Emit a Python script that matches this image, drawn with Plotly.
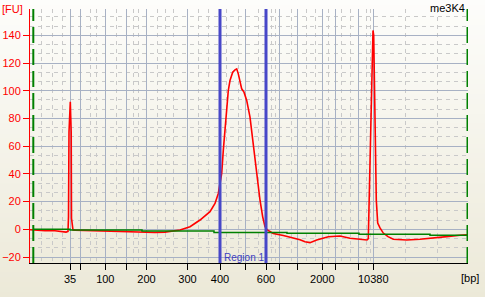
import plotly.graph_objects as go

# ---------------- data ----------------
# ladder (bp) and their migration times (s)
ladder_bp = [35, 50, 100, 150, 200, 300, 400, 500, 600, 700, 1000, 2000, 3000, 7000, 10380]
ladder_time = [34.0, 36.1, 41.06, 45.34, 49.3, 57.5, 64.0, 69.16, 73.2, 75.86, 79.54, 84.46, 87.0, 91.66, 94.66]
labeled_bp = [35, 100, 200, 300, 400, 600, 2000, 10380]

# minor (dashed) time grid positions (s)
minor_time = [28.34, 30.46, 32.54, 38.14, 39.34, 43.34, 46.66, 47.66, 51.46, 53.0, 54.66,
              59.66, 61.66, 65.34, 67.66, 71.66, 74.34, 75.0, 78.34, 81.34, 83.0, 85.66,
              88.34, 90.0, 93.34, 94.0, 101.0, 107.54]

# sample electropherogram: time (s) and fluorescence (FU)
sample_time = [26.0, 27.2, 29.0, 31.0, 32.2, 33.2, 33.6, 33.7, 33.8, 33.94, 34.06, 34.14, 34.24,
               34.3, 34.46, 34.6, 35.0, 37.0, 39.0, 41.0, 43.0, 45.0, 47.0, 49.0, 51.0, 53.0,
               55.0, 56.0, 58.0, 60.0, 62.0, 63.0, 63.66, 64.34, 64.66, 65.0, 65.34, 65.66,
               66.0, 66.54, 67.0, 67.34, 67.66, 68.0, 68.34, 68.8, 69.34, 70.0, 70.54, 71.0,
               71.46, 72.0, 72.54, 73.0, 73.46, 74.66, 76.66, 78.66, 80.0, 81.0, 82.0, 83.34,
               84.4, 85.66, 88.0, 90.0, 92.0, 93.4, 93.66, 93.8, 94.0, 94.26, 94.46, 94.6,
               94.74, 94.84, 95.06, 95.26, 95.54, 96.0, 96.66, 97.6, 98.66, 101.34, 104.0,
               106.66, 109.34, 112.0, 113.4]
sample_fu = [-0.3, -0.6, -1.0, -1.0, -1.6, -2.0, -1.5, 9.0, 70.0, 92.0, 92.0, 82.0, 70.0,
             8.0, 3.0, -0.5, -0.6, -0.8, -1.2, -1.5, -1.8, -1.5, -2.0, -2.3, -2.3, -2.0,
             -1.0, -0.5, 1.9, 6.7, 12.7, 18.7, 25.9, 40.3, 57.0, 73.8, 90.6, 100.2,
             107.4, 113.4, 115.1, 115.8, 112.2, 107.4, 101.4, 99.0, 93.0, 81.0, 64.2, 49.8,
             35.5, 21.0, 9.0, 1.9, -0.5, -3.0, -4.5, -6.0, -7.5, -9.0, -9.6, -7.7,
             -6.5, -5.3, -4.8, -6.5, -7.2, -7.7, -6.8, 16.0, 62.0, 108.0, 140.0, 143.5,
             140.0, 113.0, 50.0, 21.0, 4.5, 1.0, -2.7, -5.3, -7.2, -7.7, -7.2,
             -6.5, -5.3, -4.3, -4.0]

# baseline (step)
baseline_time = [26.66, 34.0, 48.4, 62.8, 77.4, 91.8, 106.0, 113.4]
baseline_fu = [0.0, -0.5, -1.2, -2.2, -2.9, -3.6, -4.3, -4.3]

# markers / region
marker_time = [26.66, 113.5]
region_time = [64.0, 73.2]
region_label = "Region 1"
sample_name = "me3K4"

y_ticks = [-20, 0, 20, 40, 60, 80, 100, 120, 140]

# ---------------- figure ----------------
FONT = "Liberation Sans, Arial, sans-serif"
fig = go.Figure()

fig.add_trace(go.Scatter(x=sample_time, y=sample_fu, mode="lines",
                         line=dict(color="#ff0000", width=1.6), hoverinfo="skip"))
fig.add_trace(go.Scatter(x=baseline_time, y=baseline_fu, mode="lines",
                         line=dict(color="#008000", width=1.5, shape="hv"), hoverinfo="skip"))

shapes = []
# background gradient (whole figure)
H = 297.0
top_c = (253, 253, 251)
bot_c = (236, 233, 216)
n = 60
pt, pb = 9.0, 263.0
for i in range(n):
    p0 = i * H / n
    p1 = (i + 1) * H / n + 0.8
    f = (i + 0.5) / n
    c = tuple(round(top_c[k] + (bot_c[k] - top_c[k]) * f) for k in range(3))
    shapes.append(dict(type="rect", xref="paper", yref="paper", x0=-0.1, x1=1.1,
                       y0=(pb - p1) / (pb - pt), y1=(pb - p0) / (pb - pt),
                       fillcolor="rgb(%d,%d,%d)" % c, line=dict(width=0), layer="below"))

for t in marker_time:
    shapes.append(dict(type="line", xref="x", yref="paper", x0=t, x1=t, y0=0, y1=1,
                       line=dict(color="#008000", width=2, dash="16px,6px"), layer="above"))
for t in region_time:
    shapes.append(dict(type="line", xref="x", yref="paper", x0=t, x1=t, y0=0, y1=1,
                       line=dict(color="#4747c8", width=3), layer="above"))

ticktext = [str(b) if b in labeled_bp else "" for b in ladder_bp]

fig.update_layout(
    width=485, height=297,
    margin=dict(l=30, r=17, t=9, b=34),
    paper_bgcolor="rgb(236,233,216)",
    plot_bgcolor="rgba(0,0,0,0)",
    showlegend=False,
    shapes=shapes,
    font=dict(family=FONT, size=11, color="#000000"),
    xaxis=dict(range=[26.0, 113.6], tickmode="array", tickvals=ladder_time, ticktext=ticktext,
               automargin=False,
               showgrid=True, gridcolor="#a7b1c4", gridwidth=1,
               minor=dict(tickmode="array", tickvals=minor_time, showgrid=True,
                          gridcolor="#c9c9c9", griddash="4px,4px", gridwidth=1, ticks=""),
               ticks="outside", ticklen=6, tickcolor="#000000", tickwidth=1,
               showline=True, linecolor="#000000", linewidth=1, zeroline=False,
               tickfont=dict(family=FONT, size=11, color="#000000")),
    yaxis=dict(range=[-24.3, 159], tickmode="array", tickvals=y_ticks,
               automargin=False,
               showgrid=True, gridcolor="#a7b1c4", gridwidth=1,
               minor=dict(dtick=20 / 3, tick0=0, showgrid=True, gridcolor="#c9c9c9",
                          griddash="4px,4px", gridwidth=1, ticks=""),
               ticks="outside", ticklen=6, tickcolor="#ff0000", tickwidth=1,
               showline=True, linecolor="#ff0000", linewidth=1, zeroline=False,
               tickfont=dict(family=FONT, size=11, color="#ff0000")),
    annotations=[
        dict(text="[FU]", xref="paper", yref="paper", x=-30 / 438, y=(263 - 1) / 254,
             xanchor="left", yanchor="top", showarrow=False,
             font=dict(family=FONT, size=11, color="#ff0000")),
        dict(text=sample_name, xref="paper", yref="paper", x=(467 - 30) / 438, y=(263 - 0) / 254,
             xanchor="right", yanchor="top", showarrow=False,
             font=dict(family=FONT, size=11, color="#000000")),
        dict(text="[bp]", xref="paper", yref="paper", x=(481 - 30) / 438, y=(263 - 278) / 254,
             xanchor="right", yanchor="middle", showarrow=False,
             font=dict(family=FONT, size=11, color="#000000")),
        dict(text=region_label, xref="x", yref="y", x=region_time[0], y=-20,
             xanchor="left", yanchor="middle", xshift=2, showarrow=False,
             font=dict(family=FONT, size=10, color="#4040c0")),
    ],
)

fig.write_html("out.html")
